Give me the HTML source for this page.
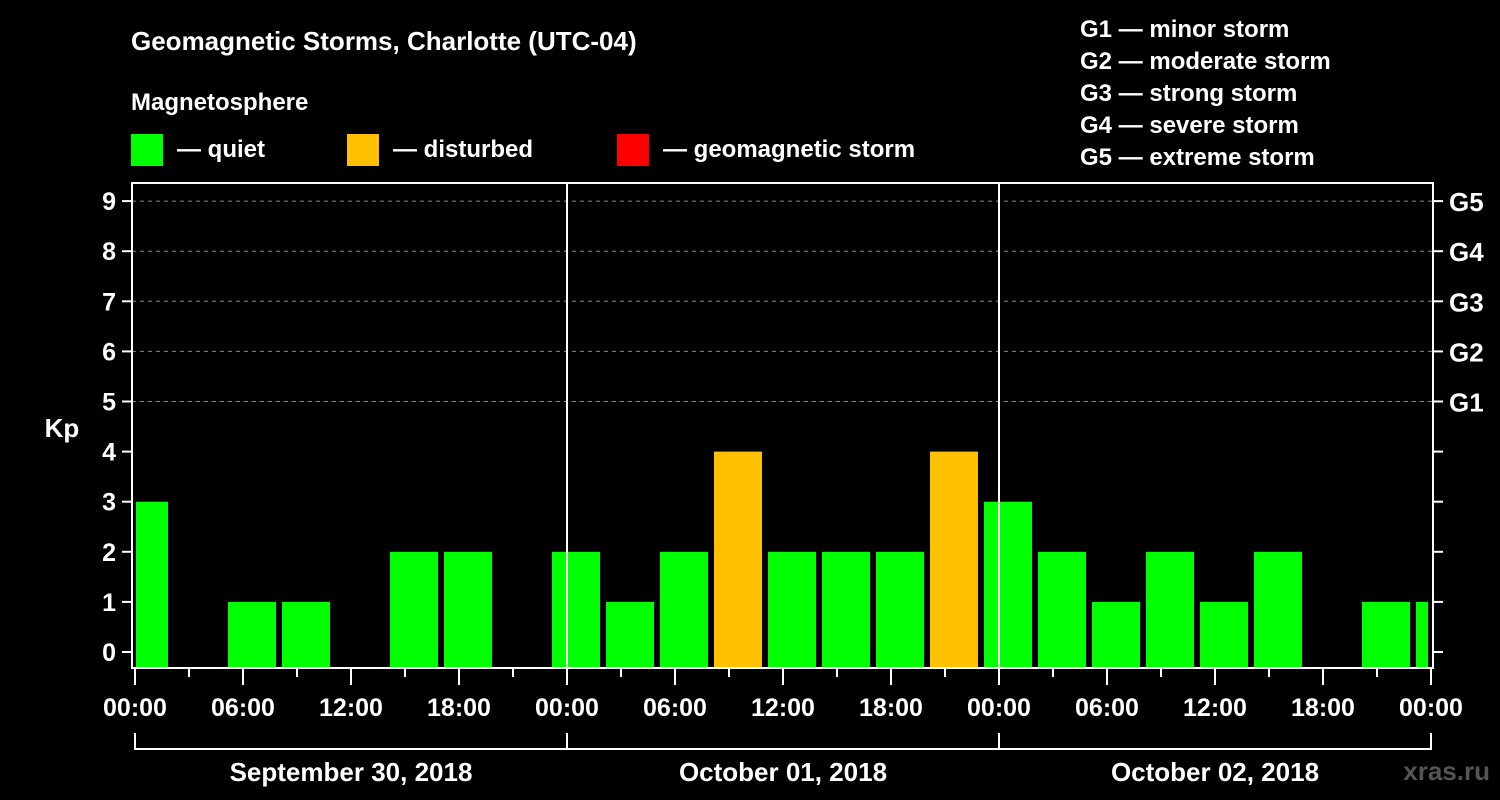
<!DOCTYPE html>
<html><head><meta charset="utf-8"><style>
html,body{margin:0;padding:0;background:#000;}
svg{display:block;font-family:"Liberation Sans",Arial,sans-serif;font-weight:bold;}
</style></head><body>
<svg id="chart" width="1500" height="800" viewBox="0 0 1500 800">
<rect x="0" y="0" width="1500" height="800" fill="#000"/>
<text x="131" y="50" fill="#fff" font-size="26">Geomagnetic Storms, Charlotte (UTC-04)</text>
<text x="131" y="110" fill="#fff" font-size="24">Magnetosphere</text>
<g><rect x="131" y="134" width="32" height="32" fill="#00ff00"/><text x="177" y="157" fill="#fff" font-size="24">— quiet</text></g>
<g><rect x="347" y="134" width="32" height="32" fill="#ffc000"/><text x="393" y="157" fill="#fff" font-size="24">— disturbed</text></g>
<g><rect x="617" y="134" width="32" height="32" fill="#ff0000"/><text x="663" y="157" fill="#fff" font-size="24">— geomagnetic storm</text></g>
<g fill="#fff" font-size="24">
<text x="1080" y="37">G1 — minor storm</text>
<text x="1080" y="69">G2 — moderate storm</text>
<text x="1080" y="101">G3 — strong storm</text>
<text x="1080" y="133">G4 — severe storm</text>
<text x="1080" y="165">G5 — extreme storm</text>
</g>
<text x="62" y="437" fill="#fff" font-size="26" text-anchor="middle">Kp</text>
<g id="grid"></g>
<g id="bars"></g>
<g id="axes"></g>
<text x="1490" y="780" fill="#555" font-size="26" text-anchor="end">xras.ru</text>
</svg>
<script>
const kpValues = [3,0,1,1,0,2,2,0,2,1,2,4,2,2,2,4,3,2,1,2,1,2,0,1,1];
const firstBinHour = -1;
const kpTicks = [0,1,2,3,4,5,6,7,8,9];
const gLabels = ["","","","","","G1","G2","G3","G4","G5"];
const timeLabels = ["00:00","06:00","12:00","18:00","00:00","06:00","12:00","18:00","00:00","06:00","12:00","18:00","00:00"];
const dayLabels = ["September 30, 2018","October 01, 2018","October 02, 2018"];

const NS="http://www.w3.org/2000/svg";
const X0=135, PXH=18, PL=132, PR=1433, PT=183, PB=668;
const xh = h => X0 + h*PXH;
const yk = k => 652 - 50.1*k;
function mk(tag, attrs, parent, txt){const e=document.createElementNS(NS,tag);for(const a in attrs)e.setAttribute(a,attrs[a]);if(txt!==undefined)e.textContent=txt;parent.appendChild(e);return e;}
const grid=document.getElementById('grid'), bars=document.getElementById('bars'), axes=document.getElementById('axes');

kpTicks.forEach((k,i)=>{
  if(k>=5){const g=mk('line',{x1:PL,x2:PR,y1:yk(k),y2:yk(k),stroke:'#888','stroke-dasharray':'4,4','stroke-width':1},grid);
  
  }
  const t=mk('line',{x1:122,x2:PL,y1:yk(k),y2:yk(k),stroke:'#fff','stroke-width':2},axes);
  
  
  const l=mk('text',{x:116,y:yk(k)+9,fill:'#fff','font-size':25,'text-anchor':'end'},axes,String(k));
  
  
  const rt=mk('line',{x1:PR,x2:1443,y1:yk(k),y2:yk(k),stroke:'#fff','stroke-width':2},axes);
  
  
  if(gLabels[i]){const gl=mk('text',{x:1449,y:yk(k)+10,fill:'#fff','font-size':26},axes,gLabels[i]);
  
  }
});

kpValues.forEach((v,i)=>{
  if(v<=0)return;
  const h=firstBinHour+3*i;
  let x1=xh(h)+3, x2=xh(h+3)-3;
  x1=Math.max(x1,PL+4); x2=Math.min(x2,PR-5);
  const col=v>=5?'#ff0000':(v>=4?'#ffc000':'#00ff00');
  const r=mk('rect',{x:x1,y:yk(v),width:x2-x1,height:PB-yk(v),fill:col},bars);
  
  
});

const frame=mk('rect',{x:PL,y:PT,width:PR-PL,height:PB-PT,fill:'none',stroke:'#fff','stroke-width':2},axes);


[1,2].forEach(d=>{const s=mk('line',{x1:xh(24*d),x2:xh(24*d),y1:PT,y2:PB,stroke:'#fff','stroke-width':2},axes);
  
  });

for(let h=0;h<=72;h+=3){
  const major=h%6===0;
  const t=mk('line',{x1:xh(h),x2:xh(h),y1:PB,y2:major?685:677,stroke:'#fff','stroke-width':2},axes);
  
  
}
timeLabels.forEach((s,i)=>{
  const t=mk('text',{x:xh(6*i),y:716,fill:'#fff','font-size':25,'text-anchor':'middle'},axes,s);
  
  
});
const br=mk('line',{x1:xh(0),x2:xh(72),y1:749,y2:749,stroke:'#fff','stroke-width':2},axes);


for(let d=0;d<=3;d++){const b=mk('line',{x1:xh(24*d),x2:xh(24*d),y1:733,y2:750,stroke:'#fff','stroke-width':2},axes);
  
  }
dayLabels.forEach((s,i)=>{
  const t=mk('text',{x:xh(24*i+12),y:781,fill:'#fff','font-size':26,'text-anchor':'middle'},axes,s);
  
  
});
</script>
</body></html>
